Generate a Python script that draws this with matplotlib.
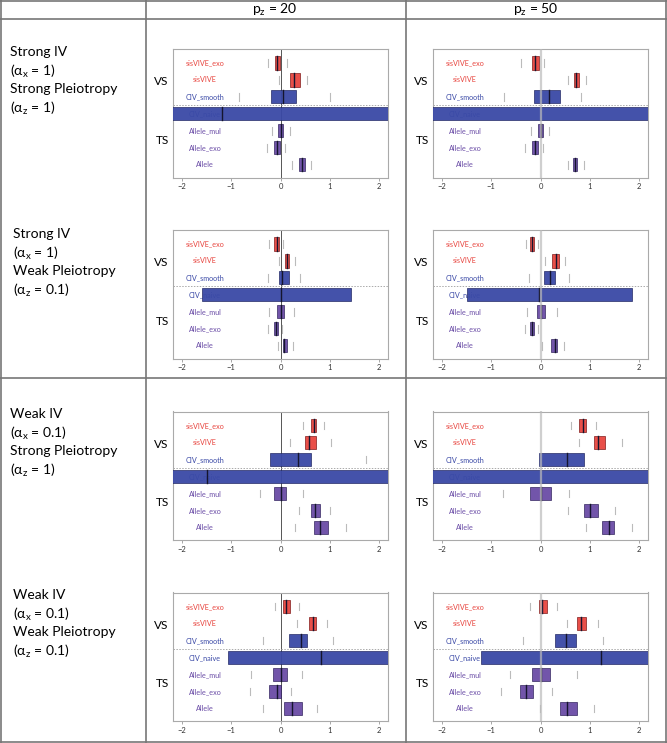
import numpy as np
import matplotlib
matplotlib.use("Agg")
from matplotlib import pyplot as plt

plt.rcParams['font.family'] = ['Lato', 'DejaVu Sans']
plt.rcParams['mathtext.fontset'] = 'dejavusans'

#method names, top row first
methods = ['sisVIVE_exo', 'sisVIVE', 'CIV_smooth', 'CIV_naive', 'Allele_mul', 'Allele_exo', 'Allele']
groups = ['sis', 'sis', 'civ', 'civ', 'all', 'all', 'all']

col_titles = [r'p$_\mathregular{z}$ = 20', r'p$_\mathregular{z}$ = 50']
row_titles = [
    'Strong IV\n(α$_\\mathregular{x}$ = 1)\nStrong Pleiotropy\n(α$_\\mathregular{z}$ = 1)',
    'Strong IV\n(α$_\\mathregular{x}$ = 1)\nWeak Pleiotropy\n(α$_\\mathregular{z}$ = 0.1)',
    'Weak IV\n(α$_\\mathregular{x}$ = 0.1)\nStrong Pleiotropy\n(α$_\\mathregular{z}$ = 1)',
    'Weak IV\n(α$_\\mathregular{x}$ = 0.1)\nWeak Pleiotropy\n(α$_\\mathregular{z}$ = 0.1)',
]

#each panel: rows of (low tick, box left, median, box right, high tick)
panel_a = [(-0.25, -0.115, -0.07, -0.015, 0.135),
           (-0.03, 0.19, 0.28, 0.40, 0.54),
           (-0.85, -0.20, 0.06, 0.32, 1.01),
           (-9.0, -4.0, -1.18, 4.0, 9.0),
           (-0.18, -0.06, 0.0, 0.05, 0.19),
           (-0.27, -0.13, -0.08, -0.02, 0.10),
           (0.24, 0.37, 0.43, 0.49, 0.61)]
panel_b = [(-0.39, -0.18, -0.11, -0.03, 0.07),
           (0.56, 0.67, 0.72, 0.78, 0.92),
           (-0.74, -0.14, 0.18, 0.39, 0.82),
           (-9.0, -4.0, -3.0, 4.0, 9.0),
           (-0.20, -0.05, 0.0, 0.05, 0.17),
           (-0.32, -0.17, -0.11, -0.06, 0.05),
           (0.56, 0.65, 0.70, 0.75, 0.89)]
panel_c = [(-0.24, -0.13, -0.08, -0.03, 0.05),
           (-0.03, 0.09, 0.135, 0.18, 0.30),
           (-0.26, -0.03, 0.04, 0.18, 0.39),
           (-9.0, -1.60, 0.0, 1.42, 9.0),
           (-0.24, -0.07, 0.0, 0.07, 0.27),
           (-0.25, -0.14, -0.09, -0.05, 0.03),
           (-0.06, 0.05, 0.08, 0.14, 0.26)]
panel_d = [(-0.30, -0.21, -0.18, -0.13, -0.05),
           (0.10, 0.24, 0.32, 0.38, 0.50),
           (-0.24, 0.07, 0.20, 0.30, 0.58),
           (-9.0, -1.49, -0.03, 1.85, 9.0),
           (-0.27, -0.07, 0.0, 0.09, 0.34),
           (-0.31, -0.22, -0.18, -0.14, -0.06),
           (0.04, 0.21, 0.29, 0.34, 0.47)]
panel_e = [(0.45, 0.61, 0.68, 0.72, 0.88),
           (0.20, 0.49, 0.57, 0.71, 1.03),
           (-2.4, -0.21, 0.36, 0.61, 1.74),
           (-9.0, -4.0, -1.49, 4.0, 9.0),
           (-0.41, -0.13, 0.02, 0.11, 0.46),
           (0.38, 0.62, 0.70, 0.80, 1.00),
           (0.30, 0.67, 0.81, 0.97, 1.32)]
panel_f = [(0.61, 0.78, 0.86, 0.93, 1.12),
           (0.78, 1.08, 1.17, 1.30, 1.66),
           (-2.5, -0.03, 0.54, 0.88, 2.5),
           (-9.0, -4.0, -3.0, 4.0, 9.0),
           (-0.76, -0.21, 0.0, 0.21, 0.57),
           (0.55, 0.89, 1.01, 1.16, 1.51),
           (0.92, 1.25, 1.39, 1.49, 1.86)]
panel_g = [(-0.12, 0.05, 0.12, 0.20, 0.37),
           (0.34, 0.57, 0.65, 0.73, 0.95),
           (-0.35, 0.17, 0.41, 0.54, 1.07),
           (-9.0, -1.07, 0.82, 4.0, 9.0),
           (-0.59, -0.16, 0.02, 0.14, 0.43),
           (-0.62, -0.24, -0.07, 0.02, 0.21),
           (-0.36, 0.07, 0.24, 0.43, 0.75)]
panel_h = [(-0.22, -0.03, 0.04, 0.14, 0.34),
           (0.53, 0.74, 0.83, 0.92, 1.16),
           (-0.35, 0.29, 0.51, 0.71, 1.26),
           (-9.0, -1.20, 1.22, 4.0, 9.0),
           (-0.62, -0.18, 0.02, 0.19, 0.74),
           (-0.80, -0.41, -0.30, -0.15, 0.23),
           (-0.01, 0.39, 0.54, 0.75, 1.09)]

panels = [[panel_a, panel_b], [panel_c, panel_d], [panel_e, panel_f], [panel_g, panel_h]]

fill = {'sis': '#E8453F', 'civ': '#3A49A6', 'all': '#6A4CA6'}
edge = {'sis': '#7A1515', 'civ': '#1E2460', 'all': '#2E1F5A'}
textc = {'sis': '#E8453F', 'civ': '#3A49A6', 'all': '#6A4CA6'}

W, H = 667, 743
fig = plt.figure(figsize=(W / 100, H / 100), dpi=100)

#table grid lines (pixel coords)
grid = fig.add_axes([0, 0, 1, 1])
grid.set_xlim(0, W)
grid.set_ylim(H, 0)
grid.axis('off')
lc = '#777777'
for x in [1, 145.5, 405.5, W - 1]:
    grid.plot([x, x], [0, H], color=lc, lw=1.2)
for y in [1, 19, 378, H - 1]:
    grid.plot([0, W], [y, y], color=lc, lw=1.2)
grid.text(275, 10, col_titles[0], ha='center', va='center', fontsize=10)
grid.text(536, 10, col_titles[1], ha='center', va='center', fontsize=10)

title_pos = [(10, 46), (13, 228), (10, 408), (13, 589)]
for (tx, ty), t in zip(title_pos, row_titles):
    grid.text(tx, ty, t, ha='left', va='top', fontsize=10, linespacing=1.35)

ax_left = [173, 433]
ax_top = [49, 230, 411.5, 592.5]
ax_w, ax_h = 215, 128.5

ypos = np.arange(len(methods), 0, -1)

for r in range(4):
    for c in range(2):
        data = panels[r][c]
        ax = fig.add_axes([ax_left[c] / W, 1 - (ax_top[r] + ax_h) / H, ax_w / W, ax_h / H])
        ax.set_xlim(-2.18, 2.18)
        ax.set_ylim(0.25, 7.82)
        # zero line
        if c == 0:
            ax.axvline(0, color='#555555', lw=0.7, zorder=1)
        else:
            ax.axvline(0, color='#BBBBBB', lw=1.6, zorder=6, alpha=0.7)
        ax.axhline(4.5, color='#AAAAAA', lw=0.7, ls=(0, (1.5, 1.5)), zorder=1)
        for y, name, g, (lo, q1, med, q3, hi) in zip(ypos, methods, groups, data):
            ax.text(-1.53, y, name, ha='center', va='center', fontsize=5.2,
                    color=textc[g], zorder=2)
            ax.barh(y, q3 - q1, left=q1, height=0.78, color=fill[g],
                    edgecolor=edge[g], lw=0.5, alpha=0.95, zorder=3)
            ax.plot([med, med], [y - 0.39, y + 0.39], color='#15152E', lw=1.0, zorder=4)
            ax.plot([lo, lo], [y - 0.22, y + 0.22], color='#BBBBBB', lw=0.8, zorder=2)
            ax.plot([hi, hi], [y - 0.22, y + 0.22], color='#BBBBBB', lw=0.8, zorder=2)
        ax.set_yticks([])
        ax.set_xticks([-2, -1, 0, 1, 2])
        ax.set_xticklabels(['\u22122', '\u22121', '0', '1', '2'])
        ax.tick_params(axis='x', labelsize=5.5, length=2.5, width=0.6, color='#999999',
                       labelcolor='#333333', pad=1.5)
        for s in ax.spines.values():
            s.set_color('#AAAAAA')
            s.set_linewidth(0.8)
        ax.text(-0.02, (5.9 - 0.25) / 7.57, 'VS', transform=ax.transAxes,
                ha='right', va='center', fontsize=8.5)
        ax.text(-0.02, (2.45 - 0.25) / 7.57, 'TS', transform=ax.transAxes,
                ha='right', va='center', fontsize=8.5)

fig.savefig('out.png', dpi=100)
